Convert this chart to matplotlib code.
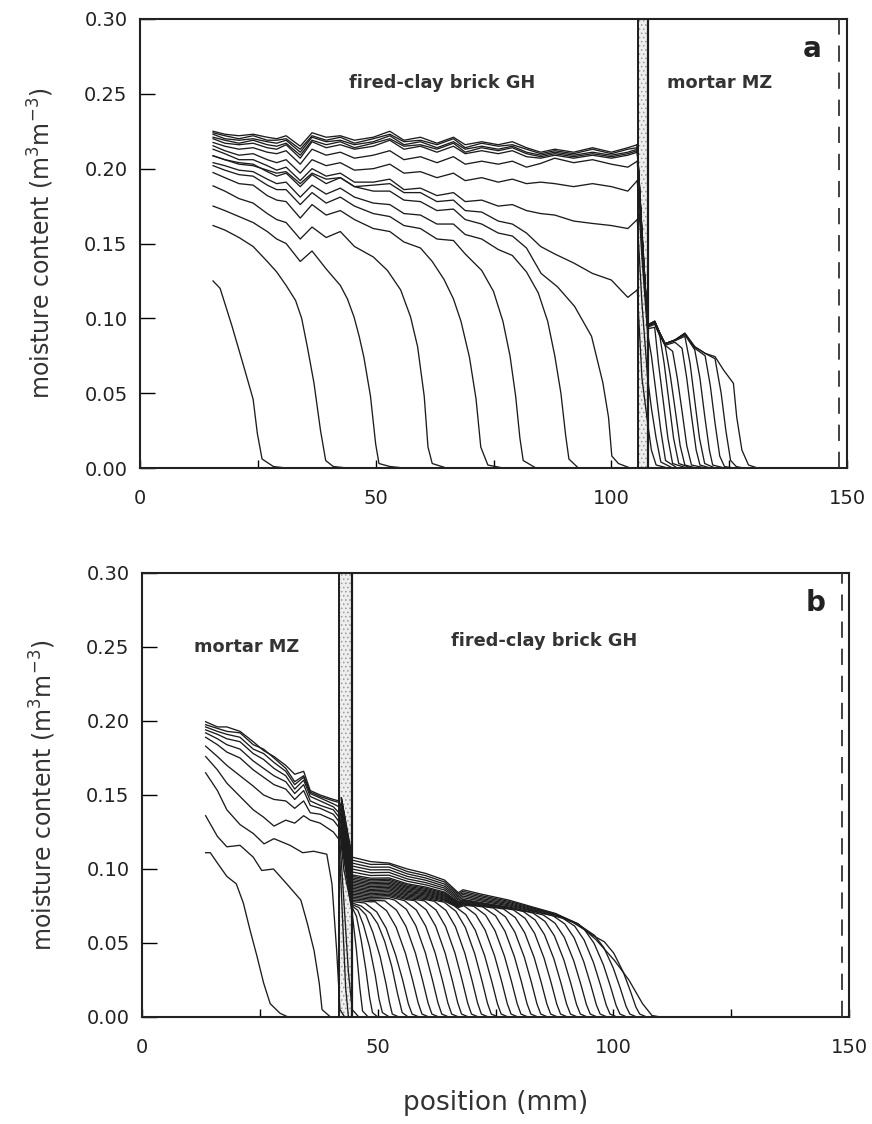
import matplotlib
matplotlib.use("Agg")
import matplotlib.pyplot as plt

plt.rcParams["font.family"] = ["DejaVu Sans"]
plt.rcParams["hatch.linewidth"] = 0.6

# ---------------- panel a : brick GH (left) / mortar MZ (right) ----------------
a_front_x = [
    [15.5, 17, 19.5, 22, 24, 24.9, 25.9, 28.3, 31],
    [15.5, 18, 21, 24, 27, 29, 31, 33, 34.3, 35.5, 36.9, 38.3, 39.4, 41, 44],
    [15.5, 18, 21, 24, 27, 29, 31, 34, 36.5, 39.5, 42.5, 44, 45.4, 46.5, 47.5, 48.9, 50, 50.7, 53, 56],
    [15.5, 18, 21, 24, 27, 29, 31, 34, 36.5, 39.5, 42.5, 45.5, 49.5, 52.5, 55.3, 57.4, 58.9, 60.3, 61.1, 62, 65],
    [15.5, 18, 21, 24, 27, 29, 31, 34, 36.5, 39.5, 42.5, 45.5, 49.5, 53, 56, 59.5, 62, 64.5, 66.5, 68.1, 69.9, 71.3, 72.3, 73.8, 77],
    [15.5, 18, 21, 24, 27, 29, 31, 34, 36.5, 39.5, 42.5, 45.5, 49.5, 53, 56, 59.5, 63, 66.5, 69, 72.5, 75, 77, 78.5, 79.7, 80.6, 81.3, 84],
    [15.5, 18, 21, 24, 27, 29, 31, 34, 36.5, 39.5, 42.5, 45.5, 49.5, 53, 56, 59.5, 63, 66.5, 69, 72.5, 76, 79, 82, 84.5, 86.5, 88, 89.3, 90.3, 91, 93],
    [15.5, 18, 21, 24, 27, 29, 31, 34, 36.5, 39.5, 42.5, 45.5, 49.5, 53, 56, 59.5, 63, 66.5, 69, 72.5, 76, 79, 82, 85.1, 88.6, 92.2, 95.8, 98.2, 99.4, 100.1, 101.5, 104],
]
a_front_y = [
    [.125, .120, .095, .068, .046, .023, .006, .001, 0],
    [.162, .159, .154, .148, .138, .131, .122, .112, .100, .081, .057, .025, .005, .001, 0],
    [.175, .172, .168, .164, .158, .153, .150, .138, .145, .133, .122, .113, .101, .088, .074, .048, .016, .003, .001, 0],
    [.1885, .185, .180, .177, .170, .166, .164, .153, .161, .154, .158, .148, .141, .132, .119, .101, .081, .048, .014, .003, 0],
    [.1974, .194, .190, .189, .182, .179, .178, .167, .176, .169, .172, .166, .160, .158, .151, .147, .138, .126, .113, .098, .074, .046, .014, .002, 0],
    [.202, .199, .196, .195, .189, .186, .186, .176, .184, .177, .181, .175, .170, .168, .162, .160, .153, .152, .143, .132, .118, .098, .075, .048, .020, .005, 0],
    [.204, .202, .199, .198, .193, .190, .191, .181, .189, .183, .187, .181, .177, .176, .170, .169, .163, .163, .156, .153, .146, .142, .131, .117, .098, .075, .050, .022, .006, 0],
    [.2086, .206, .204, .203, .198, .195, .197, .188, .196, .190, .194, .188, .185, .185, .179, .178, .172, .173, .166, .163, .157, .155, .147, .130, .121, .108, .088, .057, .034, .008, .003, 0],
]

a_grid_x = [15.5, 18, 21, 24, 27, 29, 31, 34, 36.5, 39.5, 42.5, 45.5, 49.5, 53, 56, 59.5,
            63, 66.5, 69, 72.5, 76, 79, 82, 85, 88, 92, 96, 100, 103.5, 105.5]
a_plateau_y = [
    [.2086, .206, .203, .202, .199, .197, .198, .190, .197, .193, .194, .188, .189, .190, .184, .184, .178, .179, .172, .171, .165, .163, .157, .148, .143, .137, .130, .1256, .114, .119],
    [.213, .210, .206, .206, .202, .199, .201, .192, .200, .195, .197, .191, .191, .193, .186, .187, .182, .184, .178, .179, .175, .176, .172, .170, .169, .165, .1634, .162, .160, .166],
    [.2153, .212, .209, .210, .206, .204, .206, .197, .206, .202, .204, .199, .200, .203, .197, .198, .194, .197, .192, .194, .191, .193, .190, .191, .190, .188, .190, .188, .185, .192],
    [.2175, .215, .213, .214, .211, .210, .212, .203, .213, .209, .211, .207, .209, .212, .206, .208, .204, .208, .203, .205, .203, .205, .201, .2035, .207, .204, .206, .203, .201, .205],
    [.220, .217, .216, .217, .214, .213, .216, .207, .218, .214, .216, .213, .215, .219, .213, .215, .211, .215, .210, .212, .210, .212, .208, .207, .209, .207, .209, .207, .209, .211],
    [.221, .219, .217, .219, .216, .215, .217, .209, .219, .216, .218, .214, .217, .220, .215, .216, .213, .217, .211, .214, .212, .214, .210, .208, .210, .208, .210, .208, .210, .212],
    [.223, .220, .219, .220, .218, .217, .219, .211, .221, .218, .219, .216, .218, .222, .216, .218, .214, .218, .213, .215, .213, .215, .211, .209, .211, .209, .211, .209, .211, .213],
    [.224, .222, .220, .222, .219, .219, .220, .213, .222, .219, .221, .217, .220, .223, .218, .219, .216, .220, .214, .217, .215, .216, .213, .210, .212, .210, .213, .210, .213, .214],
    [.225, .223, .222, .223, .221, .220, .222, .215, .224, .221, .222, .219, .221, .225, .219, .221, .217, .221, .216, .218, .216, .218, .214, .211, .213, .211, .214, .211, .214, .216],
]

a_mortar_x = [
    [105.5, 106.5, 107.7, 108.5, 109.5, 112],
    [105.5, 106.5, 107.7, 108.5, 109.5, 110.5, 113],
    [105.5, 106.5, 107.7, 108.5, 109.5, 110.5, 111.5, 114],
    [105.5, 106.5, 107.7, 109.2, 110, 111, 112, 113, 116],
    [105.5, 106.5, 107.7, 109.2, 110.3, 111.2, 112.2, 113.2, 114.3, 117],
    [105.5, 106.5, 107.7, 109.2, 110.3, 111.4, 112.5, 113.5, 114.6, 115.6, 118],
    [105.5, 106.5, 107.7, 109.2, 110.3, 111.4, 113, 114, 115, 116, 117, 120],
    [105.5, 106.5, 107.7, 109.2, 110.3, 111.4, 113.5, 115, 116, 117, 118, 118.8, 121],
    [105.5, 106.5, 107.7, 109.2, 110.3, 111.4, 113.5, 115.6, 116.7, 117.7, 118.7, 119.8, 122],
    [105.5, 106.5, 107.7, 109.2, 110.3, 111.4, 113.5, 115.6, 117.7, 118.8, 119.8, 120.8, 121.5, 124],
    [105.5, 106.5, 107.7, 109.2, 110.3, 111.4, 113.5, 115.6, 117.7, 119.9, 121, 122, 123, 124, 126],
    [105.5, 106.5, 107.7, 109.2, 110.3, 111.4, 113.5, 115.6, 117.7, 119.9, 122, 123.3, 124.3, 125.3, 126.5, 128],
    [105.5, 106.5, 107.7, 109.2, 110.3, 111.4, 113.5, 115.6, 117.7, 119.9, 122, 123.8, 125.9, 126.6, 127.7, 129.1, 131],
]
a_mortar_y = [
    [.119, .060, .030, .012, .002, 0],
    [.166, .110, .060, .040, .020, .004, 0],
    [.192, .140, .090, .075, .050, .025, .005, 0],
    [.205, .150, .093, .094, .070, .045, .020, .003, 0],
    [.211, .155, .094, .096, .088, .070, .045, .020, .003, 0],
    [.212, .155, .095, .097, .089, .082, .062, .040, .015, .002, 0],
    [.213, .155, .095, .097, .089, .082, .078, .060, .038, .015, .002, 0],
    [.214, .156, .095, .097, .089, .082, .084, .080, .060, .035, .012, .002, 0],
    [.214, .156, .095, .098, .090, .083, .085, .088, .070, .045, .020, .003, 0],
    [.215, .157, .0955, .098, .090, .083, .0855, .089, .079, .060, .035, .012, .002, 0],
    [.216, .157, .0955, .098, .090, .083, .0855, .090, .080, .075, .055, .030, .008, .001, 0],
    [.216, .158, .0955, .098, .090, .083, .0855, .090, .081, .0766, .073, .050, .025, .005, .001, 0],
    [.216, .158, .0955, .098, .090, .083, .0855, .090, .081, .0766, .0744, .0655, .0566, .034, .012, .002, 0],
]

# ---------------- panel b : mortar MZ (left) / brick GH (right) ----------------
b_mortar_x = [
    [13.5, 14.5, 16, 18, 20, 21.5, 22.9, 24.4, 25.8, 27.2, 29.3, 31],
    [13.5, 16, 18, 20.8, 23.6, 25.4, 27.9, 30.7, 33.7, 35.1, 36.5, 37.6, 38.2, 40],
    [13.5, 16, 18, 20.8, 23.6, 25.9, 28, 31.4, 34.1, 36.4, 39.2, 40.3, 41.3, 42, 43],
]
b_mortar_y = [
    [.111, .111, .104, .095, .090, .077, .059, .041, .023, .009, .0025, 0],
    [.136, .122, .115, .116, .108, .099, .100, .090, .079, .063, .045, .023, .005, 0],
    [.165, .153, .140, .130, .124, .117, .1205, .116, .111, .112, .110, .090, .045, .005, 0],
]
b_mgrid_x = [13.5, 16, 18, 20.8, 23.6, 25.8, 28, 30.5, 32.4, 34.3, 35.7, 37.8, 40.6, 41.8]
b_mgrid_y = [
    [.176, .167, .158, .149, .140, .135, .129, .133, .131, .136, .133, .131, .125, .120],
    [.183, .176, .170, .163, .156, .150, .147, .146, .141, .146, .138, .137, .133, .128],
    [.189, .184, .179, .175, .167, .162, .157, .154, .147, .153, .143, .141, .137, .132],
    [.192, .188, .184, .181, .173, .168, .163, .159, .151, .157, .146, .143, .140, .135],
    [.194, .191, .188, .186, .178, .174, .168, .163, .154, .160, .149, .146, .142, .138],
    [.196, .193, .191, .189, .181, .178, .172, .166, .157, .162, .151, .148, .144, .142],
    [.1975, .195, .193, .192, .184, .181, .175, .168, .159, .163, .152, .149, .146, .145],
    [.1995, .196, .196, .193, .186, .180, .176, .170, .164, .166, .153, .150, .147, .146],
]
b_mtail_x = [
    [42.5, 43.2, 43.8],
    [42.8, 43.8, 44.6, 46],
    [42.8, 44.6], [42.8, 44.6], [42.8, 44.6], [42.8, 44.6], [42.8, 44.6], [42.5, 44.6],
]
b_mtail_y = [
    [.070, .020, 0],
    [.080, .030, .005, 0],
    [.100, .072], [.110, .075], [.120, .090], [.125, .100], [.130, .105], [.140, .108],
]

b_brick_x = [
    [42.3, 44.6, 45.5, 46.2, 46.8, 48],
    [42.3, 44.6, 45.5, 46.5, 47.5, 48.3, 48.9, 50],
    [42.3, 44.6, 45.8, 47, 48.3, 49.5, 50.3, 51, 52.5],
    [42.3, 44.6, 46, 47.5, 49, 50.5, 51.8, 52.5, 53.1, 54.5],
    [42.3, 44.6, 46.5, 48.5, 50, 51.5, 53, 54.2, 55.2, 56.5],
    [42.3, 44.6, 47.3, 49.8, 51.8, 53.8, 55.3, 56.5, 57.3, 58.8],
    [42.3, 44.6, 48.5, 49.4, 51.9, 53.9, 55.9, 57.4, 58.6, 59.4, 60.9],
    [42.3, 44.6, 48.5, 51.5, 54, 56, 58, 59.5, 60.7, 61.5, 63],
    [42.3, 44.6, 48.5, 52.4, 53.6, 56.1, 58.1, 60.1, 61.6, 62.8, 63.6, 65.1],
    [42.3, 44.6, 48.5, 52.4, 55.7, 58.2, 60.2, 62.2, 63.7, 64.9, 65.7, 67.2],
    [42.3, 44.6, 48.5, 52.4, 56.3, 57.8, 60.3, 62.3, 64.3, 65.8, 67, 67.8, 69.3],
    [42.3, 44.6, 48.5, 52.4, 56.3, 59.9, 62.4, 64.4, 66.4, 67.9, 69.1, 69.9, 71.4],
    [42.3, 44.6, 48.5, 52.4, 56.3, 60.2, 62, 64.5, 66.5, 68.5, 70, 71.2, 72, 73.5],
    [42.3, 44.6, 48.5, 52.4, 56.3, 60.2, 64.1, 66.6, 68.6, 70.6, 72.1, 73.3, 74.1, 75.6],
    [42.3, 44.6, 48.5, 52.4, 56.3, 60.2, 64.2, 66.2, 68.7, 70.7, 72.7, 74.2, 75.4, 76.2, 77.7],
    [42.3, 44.6, 48.5, 52.4, 56.3, 60.2, 64.2, 67.1, 68.3, 70.8, 72.8, 74.8, 76.3, 77.5, 78.3, 79.8],
    [42.3, 44.6, 48.5, 52.4, 56.3, 60.2, 64.2, 67.1, 68.1, 70.4, 72.9, 74.9, 76.9, 78.4, 79.6, 80.4, 81.9],
    [42.3, 44.6, 48.5, 52.4, 56.3, 60.2, 64.2, 67.1, 68.1, 72.3, 75, 77, 79, 80.5, 81.7, 82.5, 84],
    [42.3, 44.6, 48.5, 52.4, 56.3, 60.2, 64.2, 67.1, 68.1, 72, 74.6, 77.1, 79.1, 81.1, 82.6, 83.8, 84.6, 86.1],
    [42.3, 44.6, 48.5, 52.4, 56.3, 60.2, 64.2, 67.1, 68.1, 72, 76.7, 79.2, 81.2, 83.2, 84.7, 85.9, 86.7, 88.2],
    [42.3, 44.6, 48.5, 52.4, 56.3, 60.2, 64.2, 67.1, 68.1, 72, 78.8, 81.3, 83.3, 85.3, 86.8, 88, 88.8, 90.3],
    [42.3, 44.6, 48.5, 52.4, 56.3, 60.2, 64.2, 67.1, 68.1, 72, 77.8, 80.9, 83.4, 85.4, 87.4, 88.9, 90.1, 90.9, 92.4],
    [42.3, 44.6, 48.5, 52.4, 56.3, 60.2, 64.2, 67.1, 68.1, 72, 77.8, 83, 85.5, 87.5, 89.5, 91, 92.2, 93, 94.5],
    [42.3, 44.6, 48.5, 52.4, 56.3, 60.2, 64.2, 67.1, 68.1, 72, 77.8, 82.8, 85.1, 87.6, 89.6, 91.6, 93.1, 94.3, 95.1, 96.6],
    [42.3, 44.6, 48.5, 52.4, 56.3, 60.2, 64.2, 67.1, 68.1, 72, 77.8, 82.8, 87.2, 89.7, 91.7, 93.7, 95.2, 96.4, 97.2, 98.7],
    [42.3, 44.6, 48.5, 52.4, 56.3, 60.2, 64.2, 67.1, 68.1, 72, 77.8, 82.8, 89.3, 91.8, 93.8, 95.8, 97.3, 98.5, 99.3, 100.8],
    [42.3, 44.6, 48.5, 52.4, 56.3, 60.2, 64.2, 67.1, 68.1, 72, 77.8, 82.8, 87.7, 91.4, 93.9, 95.9, 97.9, 99.4, 100.6, 101.4, 102.9],
    [42.3, 44.6, 48.5, 52.4, 56.3, 60.2, 64.2, 67.1, 68.1, 72, 77.8, 82.8, 87.7, 92.5, 96, 98, 100, 101.5, 102.7, 103.5, 105],
    [42.3, 44.6, 48.5, 52.4, 56.3, 60.2, 64.2, 67.1, 68.1, 72, 77.8, 82.8, 87.7, 92.5, 95.6, 98.1, 100.1, 102.1, 103.6, 104.8, 105.6, 107.1],
    [42.3, 44.6, 48.5, 52.4, 56.3, 60.2, 64.2, 67.1, 68.1, 72, 77.8, 82.8, 87.7, 92.5, 96.4, 100.3, 103.3, 106.2, 108.2, 110],
]
b_brick_y = [
    [.118, .070, .045, .020, .004, 0],
    [.120, .074, .068, .052, .032, .013, .003, 0],
    [.122, .075, .072, .062, .047, .028, .012, .003, 0],
    [.124, .076, .074, .069, .057, .041, .022, .010, .002, 0],
    [.125, .077, .075, .070, .063, .051, .034, .016, .003, 0],
    [.126, .078, .077, .071, .060, .042, .025, .009, .002, 0],
    [.127, .079, .0778, .078, .0718, .0608, .0429, .025, .0094, .002, 0],
    [.128, .080, .0788, .0785, .0722, .0612, .0432, .0251, .0094, .002, 0],
    [.129, .081, .0797, .0800, .079, .0727, .0616, .0435, .0253, .0095, .002, 0],
    [.130, .082, .0806, .0812, .0786, .0723, .0613, .0432, .0252, .0094, .002, 0],
    [.131, .083, .0816, .0821, .0792, .0787, .0724, .0614, .0433, .0252, .0094, .002, 0],
    [.132, .084, .0825, .083, .080, .0785, .0722, .0612, .0432, .0251, .0094, .002, 0],
    [.133, .085, .0834, .0839, .0808, .0793, .0782, .072, .061, .043, .025, .0094, .002, 0],
    [.134, .086, .0844, .0848, .0817, .080, .0776, .0714, .0605, .0427, .0248, .0093, .002, 0],
    [.135, .087, .0853, .0858, .0825, .0808, .0783, .0752, .0692, .0587, .0414, .0241, .009, .002, 0],
    [.136, .088, .0862, .0867, .0833, .0816, .079, .074, .0752, .0692, .0587, .0414, .0241, .009, .002, 0],
    [.137, .089, .0872, .0876, .0842, .0824, .0796, .0745, .0757, .0748, .0688, .0583, .0411, .0239, .009, .002, 0],
    [.138, .090, .0881, .0885, .085, .0831, .0803, .075, .0763, .0744, .0684, .058, .0409, .0238, .0089, .002, 0],
    [.139, .091, .0891, .0894, .0858, .0839, .081, .0755, .0768, .0748, .0736, .0677, .0574, .0405, .0236, .0088, .002, 0],
    [.140, .092, .090, .0903, .0867, .0847, .0817, .076, .0773, .0753, .073, .0672, .0569, .0402, .0234, .0088, .002, 0],
    [.141, .093, .0909, .0912, .0875, .0854, .0823, .0765, .0779, .0758, .0724, .0666, .0565, .0398, .0232, .0087, .002, 0],
    [.142, .094, .0919, .0922, .0883, .0862, .083, .077, .0784, .0763, .0735, .0713, .0656, .0556, .0392, .0228, .0086, .002, 0],
    [.143, .095, .0928, .0931, .0892, .087, .0837, .0775, .079, .0768, .0739, .0702, .0646, .0548, .0386, .0225, .0084, .002, 0],
    [.144, .096, .0938, .094, .090, .0878, .0844, .078, .0795, .0773, .0743, .0708, .069, .0635, .0538, .038, .0221, .0083, .002, 0],
    [.145, .098, .0956, .0958, .0917, .0893, .0858, .079, .0806, .0783, .0751, .0715, .0684, .0629, .0534, .0376, .0219, .0082, .002, 0],
    [.146, .100, .0975, .0977, .0933, .0908, .0871, .080, .0817, .0792, .0758, .072, .0667, .0614, .052, .0367, .0213, .008, .002, 0],
    [.147, .102, .0994, .0995, .095, .0924, .0884, .081, .0828, .0801, .0766, .0726, .0688, .064, .0589, .0499, .0352, .0205, .0077, .002, 0],
    [.148, .104, .1012, .1013, .0967, .0939, .0898, .082, .0838, .0811, .0774, .0732, .0692, .0627, .0552, .0468, .033, .0192, .0072, .002, 0],
    [.148, .106, .1031, .1032, .0983, .0955, .0912, .083, .0849, .082, .0782, .0738, .0696, .0629, .0552, .0508, .0431, .0304, .0177, .0066, .002, 0],
    [.148, .108, .105, .104, .100, .097, .0925, .084, .086, .083, .079, .0744, .070, .063, .052, .038, .025, .009, .001, 0],
]

# interface bands and end marker (mm)
a_band = (105.7, 107.7)
b_band = (41.8, 44.6)
a_dash = 148.3
b_dash = 148.5

x_ticks = [0, 50, 100, 150]
x_minor = [25, 75, 125]
y_ticks = [0.00, 0.05, 0.10, 0.15, 0.20, 0.25, 0.30]

LC = "#1c1c1c"
LW = 0.95

fig = plt.figure(figsize=(8.72, 11.24), dpi=100)
ax_a = fig.add_axes([140 / 872, 1 - 468 / 1124, 707 / 872, 449 / 1124])
ax_b = fig.add_axes([142 / 872, 1 - 1017 / 1124, 707 / 872, 444 / 1124])


def style(ax, band, dash):
    ax.set_xlim(0, 150)
    ax.set_ylim(0, 0.30)
    ax.set_xticks(x_ticks)
    ax.set_xticks(x_minor, minor=True)
    ax.set_yticks(y_ticks)
    ax.set_yticklabels(["%.2f" % v for v in y_ticks])
    ax.tick_params(axis="y", direction="in", length=11, width=1.0, labelsize=14, pad=9, labelcolor="#222222")
    ax.tick_params(axis="x", which="both", direction="in", length=6, width=1.0, labelsize=14, pad=15, labelcolor="#222222")
    for s in ax.spines.values():
        s.set_linewidth(1.5)
        s.set_color("#222222")
    ax.axvspan(band[0], band[1], facecolor="#eeeeee", edgecolor="#9a9a9a", hatch="....", lw=0, zorder=1)
    ax.axvline(band[0], color=LC, lw=1.4, zorder=3)
    ax.axvline(band[1], color=LC, lw=1.6, zorder=3)
    ax.axvline(dash, color="#333333", lw=1.3, dashes=(9, 6), zorder=3)
    ax.set_ylabel("moisture content (m$^{3}$m$^{-3}$)", fontsize=17, labelpad=20, color="#333333")


# panel a curves
for xs, ys in zip(a_front_x, a_front_y):
    ax_a.plot(xs, ys, color=LC, lw=LW, zorder=2)
for ys in a_plateau_y:
    ax_a.plot(a_grid_x, ys, color=LC, lw=LW, zorder=2)
for xs, ys in zip(a_mortar_x, a_mortar_y):
    ax_a.plot(xs, ys, color=LC, lw=LW, zorder=2)

# panel b curves
for xs, ys in zip(b_mortar_x, b_mortar_y):
    ax_b.plot(xs, ys, color=LC, lw=LW, zorder=2)
for ys, tx, ty in zip(b_mgrid_y, b_mtail_x, b_mtail_y):
    ax_b.plot(b_mgrid_x + tx, ys + ty, color=LC, lw=LW, zorder=2)
for xs, ys in zip(b_brick_x, b_brick_y):
    ax_b.plot(xs, ys, color=LC, lw=LW, zorder=2)

style(ax_a, a_band, a_dash)
style(ax_b, b_band, b_dash)

txt = dict(fontsize=12.8, fontweight="bold", color="#333333", ha="center", va="center")
ax_a.text(64.2, 0.257, "fired-clay brick GH", **txt)
ax_a.text(123.0, 0.257, "mortar MZ", **txt)
ax_a.text(142.6, 0.280, "a", fontsize=20, fontweight="bold", color="#222222", ha="center", va="center")

ax_b.text(22.1, 0.250, "mortar MZ", **txt)
ax_b.text(85.3, 0.254, "fired-clay brick GH", **txt)
ax_b.text(142.9, 0.280, "b", fontsize=20, fontweight="bold", color="#222222", ha="center", va="center")

ax_b.set_xlabel("position (mm)", fontsize=19, labelpad=24, color="#333333")

fig.savefig("out.png", dpi=100)
